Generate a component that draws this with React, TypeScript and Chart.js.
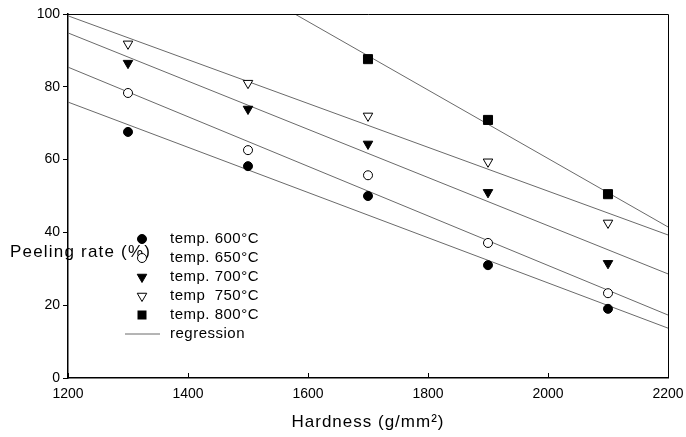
import React, { useEffect, useRef } from 'react';
import { Chart, registerables } from 'chart.js';

Chart.register(...registerables);

const hardness = [1300, 1500, 1700, 1900, 2100];
const rate600 = [67.6, 58.2, 50.0, 31.0, 19.0];
const rate650 = [78.3, 62.6, 55.7, 37.1, 23.3];
const rate700 = [86.5, 73.9, 64.3, 51.0, 31.5];
const rate750 = [91.8, 81.0, 72.0, 59.4, 42.6];
const hardness800 = [1700, 1900, 2100];
const rate800 = [87.6, 70.9, 50.5];

const regX = [1200, 2200];
const reg600 = [75.8, 13.7];
const reg650 = [85.4, 17.3];
const reg700 = [94.8, 28.6];
const reg750 = [99.5, 39.3];
const reg800X = [1578, 2200];
const reg800 = [100, 41.5];

const xTicks = [1200, 1400, 1600, 1800, 2000, 2200];
const yTicks = [0, 20, 40, 60, 80, 100];

const legendLabels = ['temp. 600°C', 'temp. 650°C', 'temp. 700°C', 'temp  750°C', 'temp. 800°C', 'regression'];
const xTitle = 'Hardness (g/mm²)';
const yTitle = 'Peeling rate (%)';

const FONT = '"Liberation Sans", Arial, sans-serif';

const pts = (xs: number[], ys: number[]) => xs.map((x, i) => ({ x, y: ys[i] }));

const scatterBase = {
  type: 'scatter' as const,
  showLine: false,
  pointBorderColor: '#000',
  pointBorderWidth: 1,
  order: 1,
};

const lineBase = {
  type: 'line' as const,
  borderColor: '#6a6a6a',
  borderWidth: 1,
  pointRadius: 0,
  fill: false,
  order: 2,
};

function drawSymbol(ctx: CanvasRenderingContext2D, kind: string, x: number, y: number) {
  ctx.save();
  ctx.lineWidth = 1;
  ctx.strokeStyle = '#000';
  ctx.fillStyle = '#000';
  ctx.beginPath();
  if (kind === 'fc' || kind === 'oc') {
    ctx.arc(x, y, 4.5, 0, Math.PI * 2);
    if (kind === 'oc') { ctx.fillStyle = '#fff'; }
    ctx.fill();
    ctx.stroke();
  } else if (kind === 'ft' || kind === 'ot') {
    const r = 5.5;
    ctx.moveTo(x, y + r);
    ctx.lineTo(x - r * 0.866, y - r * 0.5);
    ctx.lineTo(x + r * 0.866, y - r * 0.5);
    ctx.closePath();
    if (kind === 'ot') { ctx.fillStyle = '#fff'; }
    ctx.fill();
    ctx.stroke();
  } else if (kind === 'sq') {
    ctx.rect(x - 4.5, y - 4.5, 9, 9);
    ctx.fill();
  } else if (kind === 'ln') {
    ctx.strokeStyle = '#6a6a6a';
    ctx.moveTo(125, y);
    ctx.lineTo(160, y);
    ctx.stroke();
  }
  ctx.restore();
}

const decorPlugin = {
  id: 'decor',
  afterDraw(chart: any) {
    const { ctx, chartArea, scales } = chart;
    ctx.save();
    // top and right frame
    ctx.strokeStyle = '#000';
    ctx.lineWidth = 1;
    ctx.beginPath();
    ctx.moveTo(chartArea.left, chartArea.top + 0.5);
    ctx.lineTo(chartArea.right + 0.5, chartArea.top + 0.5);
    ctx.lineTo(chartArea.right + 0.5, chartArea.bottom);
    ctx.stroke();
    // inward x ticks
    ctx.beginPath();
    xTicks.forEach((v) => {
      const px = Math.round(scales.x.getPixelForValue(v)) + 0.5;
      ctx.moveTo(px, chartArea.bottom);
      ctx.lineTo(px, chartArea.bottom - 5);
    });
    ctx.stroke();

    ctx.fillStyle = '#000';
    ctx.textBaseline = 'middle';
    // y title
    ctx.font = `17px ${FONT}`;
    (ctx as any).letterSpacing = '1.2px';
    ctx.textAlign = 'left';
    ctx.fillText(yTitle, 10, 252);
    // x title
    (ctx as any).letterSpacing = '1px';
    ctx.textAlign = 'center';
    ctx.fillText(xTitle, (chartArea.left + chartArea.right) / 2, 422);

    // legend
    const kinds = ['fc', 'oc', 'ft', 'ot', 'sq', 'ln'];
    const rowsY = [239, 258, 277, 296, 315, 334];
    ctx.font = `15px ${FONT}`;
    (ctx as any).letterSpacing = '0.5px';
    ctx.textAlign = 'left';
    legendLabels.forEach((lab, i) => {
      drawSymbol(ctx, kinds[i], 142, rowsY[i]);
      ctx.fillStyle = '#000';
      ctx.fillText(lab, 170, rowsY[i]);
    });
    ctx.restore();
  },
};

export default function App() {
  const ref = useRef<HTMLCanvasElement | null>(null);

  useEffect(() => {
    document.body.style.margin = '0';
    const canvas = ref.current;
    if (!canvas) return;
    Chart.defaults.font.family = FONT;
    Chart.defaults.color = '#000';
    const chart = new Chart(canvas, {
      type: 'scatter',
      data: {
        datasets: [
          { ...lineBase, label: 'reg600', data: pts(regX, reg600) },
          { ...lineBase, label: 'reg650', data: pts(regX, reg650) },
          { ...lineBase, label: 'reg700', data: pts(regX, reg700) },
          { ...lineBase, label: 'reg750', data: pts(regX, reg750) },
          { ...lineBase, label: 'reg800', data: pts(reg800X, reg800) },
          { ...scatterBase, label: legendLabels[0], data: pts(hardness, rate600), pointStyle: 'circle', pointRadius: 4.5, pointBackgroundColor: '#000' },
          { ...scatterBase, label: legendLabels[1], data: pts(hardness, rate650), pointStyle: 'circle', pointRadius: 4.5, pointBackgroundColor: '#fff' },
          { ...scatterBase, label: legendLabels[2], data: pts(hardness, rate700), pointStyle: 'triangle', pointRotation: 180, pointRadius: 5.5, pointBackgroundColor: '#000' },
          { ...scatterBase, label: legendLabels[3], data: pts(hardness, rate750), pointStyle: 'triangle', pointRotation: 180, pointRadius: 5.5, pointBackgroundColor: '#fff' },
          { ...scatterBase, label: legendLabels[4], data: pts(hardness800, rate800), pointStyle: 'rect', pointRadius: 6.4, pointBackgroundColor: '#000' },
        ] as any,
      },
      options: {
        animation: false,
        responsive: false,
        layout: { padding: { top: 14, right: 18, left: 0, bottom: 0 } },
        plugins: { legend: { display: false }, tooltip: { enabled: false } },
        scales: {
          x: {
            type: 'linear',
            min: 1200,
            max: 2200,
            afterBuildTicks: (s: any) => { s.ticks = xTicks.map((v) => ({ value: v })); },
            afterFit: (s: any) => { s.height = 59; s.paddingLeft = 0; s.paddingRight = 0; },
            ticks: { font: { size: 14 }, color: '#000', padding: 8, maxRotation: 0, callback: (v: any) => String(v) },
            grid: { display: true, drawOnChartArea: false, drawTicks: false },
            border: { color: '#000', width: 1.5 },
          },
          y: {
            type: 'linear',
            min: 0,
            max: 100,
            afterBuildTicks: (s: any) => { s.ticks = yTicks.map((v) => ({ value: v })); },
            afterFit: (s: any) => { s.width = 68; s.paddingTop = 0; s.paddingBottom = 0; },
            ticks: { font: { size: 14 }, color: '#000', padding: 3, callback: (v: any) => String(v) },
            grid: { display: true, drawOnChartArea: false, tickLength: 5, color: '#000' },
            border: { color: '#000', width: 1.5 },
          },
        },
      },
      plugins: [decorPlugin],
    } as any);
    return () => chart.destroy();
  }, []);

  return (
    <div style={{ position: 'absolute', left: 0, top: 0, width: 686, height: 437, background: '#fff' }}>
      <canvas ref={ref} width={686} height={437} />
    </div>
  );
}
